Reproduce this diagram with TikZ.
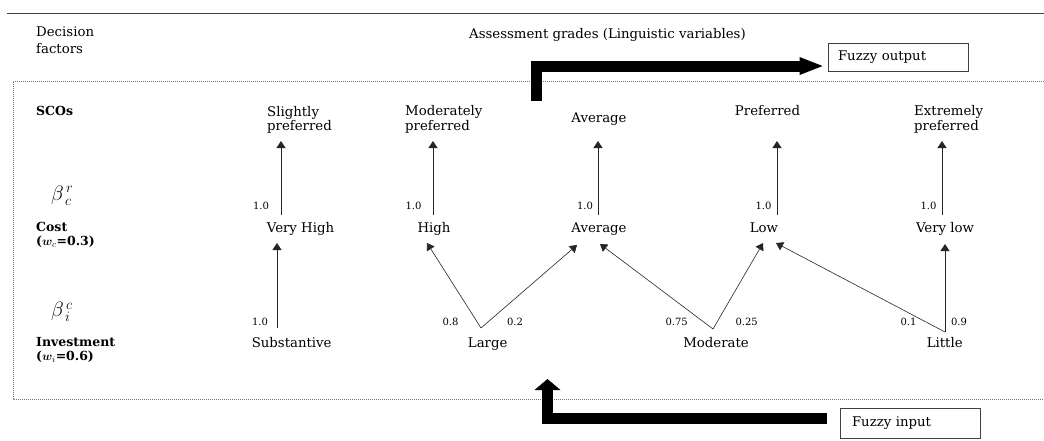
\documentclass[tikz,border=0pt]{standalone}
\usepackage{bm}
\usepackage{fontspec}
\setmainfont{DejaVu Serif}
\usetikzlibrary{arrows.meta,calc}
\begin{document}
\begin{tikzpicture}[x=1pt,y=-1pt,
  txt/.style={font=\fontsize{13.3}{17}\selectfont, inner sep=0pt},
  twoline/.style={txt, align=left, anchor=north west},
  boldtwo/.style={align=left, anchor=north west, inner sep=0pt},
  num/.style={font=\fontsize{10}{12}\selectfont, inner sep=0pt, anchor=base},
  greek/.style={font=\fontsize{20}{22}\selectfont, inner sep=0pt, anchor=base west},
  arr/.style={draw=black!85, line width=0.8pt, -{Triangle[length=7pt,width=9pt]}},
  bigarrow/.style={draw=black, line width=11pt, line join=miter},
  framebox/.style={draw=black!75, line width=0.8pt, minimum height=28pt, inner ysep=0pt, align=left, font=\fontsize{13.3}{17}\selectfont},
  frameline/.style={draw=black!55, line width=0.8pt, dash pattern=on 1pt off 1pt}]
\useasboundingbox (0,0) rectangle (1044,440);

% top rule and dotted frame
\draw[black!75, line width=1pt] (7,13) -- (1044,13);
\draw[frameline] (1044,81) -- (13,81) -- (13,399) -- (1044,399);

% headings
\node[twoline] (dec) at (36,26.6) {Decision\\factors};
\node[txt, anchor=base west] (ag) at (469,38) {Assessment grades (Linguistic variables)};

% row labels
\node[txt, anchor=base west, font=\fontsize{12.5}{15}\selectfont] (sco) at (36,115) {\textbf{SCOs}};
\node[greek] (bc) at (51,200) {$\beta_{\,c}^{\,r}$};
\node[boldtwo, font=\fontsize{12.5}{14.3}\selectfont] (cost) at (36,221.6) {\textbf{Cost}\\\textbf{($\bm{w}_{c}$=0.3)}};
\node[greek] (bi) at (51,316.7) {$\beta_{\,i}^{\,c}$};
\node[boldtwo, font=\fontsize{12.5}{13.6}\selectfont] (inv) at (36,337.6) {\textbf{Investment}\\\textbf{($\bm{w}_{i}$=0.6)}};

% SCO grades
\node[twoline, font=\fontsize{13.3}{13.8}\selectfont] (sp) at (267,106.6) {Slightly\\preferred};
\node[twoline, font=\fontsize{13.3}{15}\selectfont] (mp) at (405,105) {Moderately\\preferred};
\node[txt, anchor=base] (avt) at (599,122) {Average};
\node[txt, anchor=base] (pf) at (767.5,115) {Preferred};
\node[twoline, font=\fontsize{13.3}{15}\selectfont] (ep) at (914,105) {Extremely\\preferred};

% cost grades
\node[txt, anchor=base] (vh) at (300.5,232) {Very High};
\node[txt, anchor=base] (hi) at (434,232) {High};
\node[txt, anchor=base] (avc) at (599,232) {Average};
\node[txt, anchor=base] (lo) at (764,232) {Low};
\node[txt, anchor=base] (vl) at (945,232) {Very low};

% investment grades
\node[txt, anchor=base] (sb) at (291.7,347.5) {Substantive};
\node[txt, anchor=base] (lg) at (487.7,347.5) {Large};
\node[txt, anchor=base] (md) at (716,347.5) {Moderate};
\node[txt, anchor=base] (lt) at (944.7,347.5) {Little};

% fuzzy boxes
\node[framebox, minimum width=140pt, inner xsep=10pt, text width=120pt] (fout) at (898,57) {Fuzzy output};
\node[framebox, minimum width=140pt, minimum height=30pt, inner xsep=12pt, text width=116pt] (fin) at (910,423) {Fuzzy input};

% arrow end points
\coordinate (vhT) at (281,215);  \coordinate (spB) at (281,141);
\coordinate (hiT) at (433,215);  \coordinate (mpB) at (433,141);
\coordinate (avcT) at (598,215); \coordinate (avtB) at (598,141);
\coordinate (loT) at (777,215);  \coordinate (pfB) at (777,141);
\coordinate (vlT) at (942,215);  \coordinate (epB) at (942,141);

\coordinate (sbT) at (277,328);  \coordinate (vhB) at (277,243);
\coordinate (lgT) at (481,328);  \coordinate (hiB) at (427,243);
\coordinate (avcB1) at (577,245);
\coordinate (mdT) at (713,329);  \coordinate (avcB2) at (600,244);
\coordinate (loB1) at (763,243);
\coordinate (ltT) at (945,332);  \coordinate (loB2) at (776,243);
\coordinate (vlB) at (945,244);

% cost -> SCO arrows
\draw[arr] (vhT) -- (spB);
\draw[arr] (hiT) -- (mpB);
\draw[arr] (avcT) -- (avtB);
\draw[arr] (loT) -- (pfB);
\draw[arr] (vlT) -- (epB);

% investment -> cost arrows
\draw[arr] (sbT) -- (vhB);
\draw[arr, line width=0.6pt] (lgT) -- (hiB);
\draw[arr, line width=0.6pt] (lgT) -- (avcB1);
\draw[arr, line width=0.6pt] (mdT) -- (avcB2);
\draw[arr, line width=0.6pt] (mdT) -- (loB1);
\draw[arr, line width=0.6pt] (ltT) -- (loB2);
\draw[arr] (ltT) -- (vlB);

% weights
\node[num] (w1) at (261,209.3) {1.0};
\node[num] (w2) at (413.5,209.3) {1.0};
\node[num] (w3) at (585,209.3) {1.0};
\node[num] (w4) at (763.5,209.3) {1.0};
\node[num] (w5) at (928.5,209.3) {1.0};
\node[num] (w6) at (260,325) {1.0};
\node[num] (w7) at (450.5,325) {0.8};
\node[num] (w8) at (515,325) {0.2};
\node[num] (w9) at (676.7,325) {0.75};
\node[num] (w10) at (746.7,325) {0.25};
\node[num] (w11) at (908.5,325) {0.1};
\node[num] (w12) at (959,325) {0.9};

% thick process arrows
\coordinate (outS) at (536.5,101);
\coordinate (outE) at ($(fout.west)+(-5,9)$);
\draw[bigarrow, -{Triangle[length=23pt,width=18pt,line width=0pt]}] (outS) |- (outE);
\coordinate (inS) at ($(fin.west)+(-13,-5)$);
\coordinate (inE) at (547.5,379);
\draw[bigarrow, -{Triangle[length=11pt,width=26pt,line width=0pt]}] (inS) -| (inE);
\end{tikzpicture}
\end{document}
